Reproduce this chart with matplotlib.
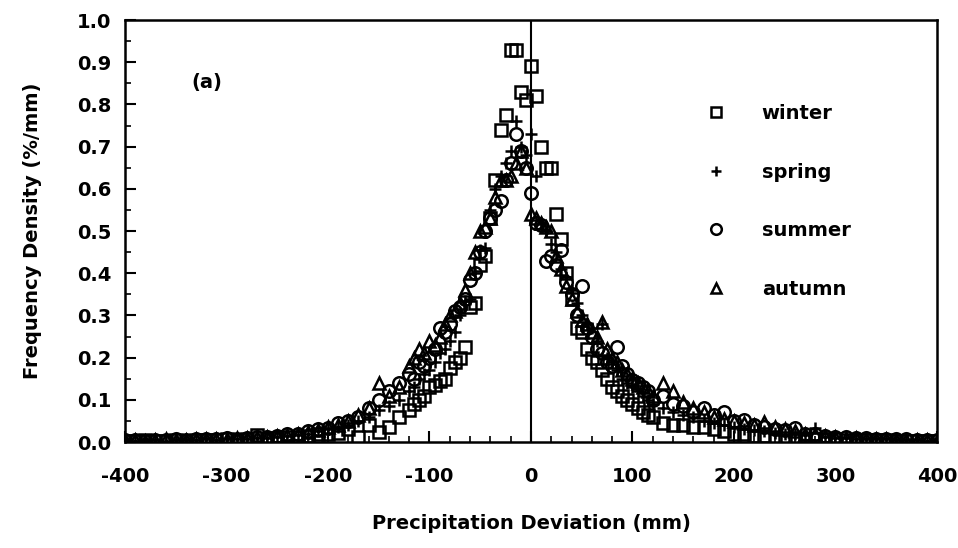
import matplotlib.pyplot as plt

plt.rcParams['font.family'] = ['DejaVu Sans']
plt.rcParams['font.weight'] = 'bold'
plt.rcParams['axes.labelweight'] = 'bold'
plt.rcParams['axes.unicode_minus'] = False

# bin centres (mm)
dev_mm = [-400, -390, -380, -370, -360, -350, -340, -330, -320, -310,
          -300, -290, -280, -270, -260, -250, -240, -230, -220, -210,
          -200, -190, -180, -170, -160, -150, -140, -130,
          -120, -115, -110, -105, -100, -95, -90, -85, -80, -75, -70, -65,
          -60, -55, -50, -45, -40, -35, -30, -25, -20, -15, -10, -5, 0,
          5, 10, 15, 20, 25, 30, 35, 40, 45, 50, 55, 60, 65, 70, 75, 80,
          85, 90, 95, 100, 105, 110, 115, 120,
          130, 140, 150, 160, 170, 180, 190, 200, 210, 220, 230, 240,
          250, 260, 270, 280, 290, 300, 310, 320, 330, 340, 350, 360,
          370, 380, 390, 400]

winter = [0.003, 0.002, 0.004, 0.003, 0.002, 0.004, 0.003, 0.005, 0.004, 0.004,
          0.006, 0.005, 0.008, 0.017, 0.007, 0.010, 0.012, 0.012, 0.015, 0.018,
          0.020, 0.022, 0.030, 0.012, 0.040, 0.024, 0.035, 0.060,
          0.075, 0.09, 0.10, 0.11, 0.13, 0.135, 0.145, 0.15, 0.175, 0.19, 0.20, 0.225,
          0.32, 0.33, 0.42, 0.44, 0.53, 0.62, 0.74, 0.775, 0.93, 0.93, 0.83, 0.81, 0.89,
          0.82, 0.70, 0.65, 0.65, 0.54, 0.48, 0.40, 0.34, 0.27, 0.26, 0.22, 0.20, 0.19,
          0.17, 0.15, 0.13, 0.12, 0.11, 0.10, 0.09, 0.08, 0.07, 0.065, 0.06,
          0.045, 0.040, 0.040, 0.035, 0.036, 0.030, 0.025, 0.020, 0.018, 0.015, 0.014, 0.012,
          0.010, 0.010, 0.008, 0.007, 0.007, 0.006, 0.005, 0.005, 0.004, 0.004, 0.004, 0.003,
          0.003, 0.003, 0.002, 0.002]

spring = [0.004, 0.003, 0.004, 0.005, 0.003, 0.004, 0.005, 0.004, 0.006, 0.005,
          0.007, 0.006, 0.008, 0.009, 0.010, 0.012, 0.014, 0.016, 0.020, 0.025,
          0.030, 0.035, 0.040, 0.050, 0.060, 0.075, 0.085, 0.10,
          0.12, 0.13, 0.15, 0.16, 0.17, 0.19, 0.21, 0.22, 0.24, 0.26, 0.30, 0.335,
          0.34, 0.40, 0.455, 0.46, 0.55, 0.60, 0.63, 0.66, 0.69, 0.76, 0.70, 0.68, 0.73,
          0.63, 0.52, 0.50, 0.47, 0.45, 0.41, 0.39, 0.36, 0.33, 0.30, 0.28, 0.27, 0.24,
          0.28, 0.20, 0.19, 0.17, 0.15, 0.14, 0.13, 0.12, 0.11, 0.10, 0.09,
          0.08, 0.07, 0.065, 0.06, 0.05, 0.045, 0.04, 0.035, 0.03, 0.028, 0.025, 0.022,
          0.02, 0.018, 0.016, 0.033, 0.012, 0.010, 0.009, 0.008, 0.007, 0.006, 0.006, 0.005,
          0.004, 0.004, 0.003, 0.003]

summer = [0.005, 0.004, 0.003, 0.005, 0.004, 0.006, 0.005, 0.007, 0.006, 0.008,
          0.009, 0.008, 0.010, 0.012, 0.013, 0.015, 0.018, 0.020, 0.025, 0.030,
          0.033, 0.045, 0.050, 0.060, 0.080, 0.10, 0.12, 0.14,
          0.16, 0.15, 0.19, 0.18, 0.20, 0.22, 0.27, 0.26, 0.28, 0.31, 0.32, 0.34,
          0.385, 0.40, 0.45, 0.50, 0.53, 0.55, 0.57, 0.62, 0.66, 0.73, 0.69, 0.65, 0.59,
          0.52, 0.515, 0.43, 0.44, 0.42, 0.455, 0.38, 0.35, 0.30, 0.37, 0.27, 0.25, 0.22,
          0.21, 0.19, 0.18, 0.225, 0.18, 0.16, 0.147, 0.14, 0.13, 0.12, 0.10,
          0.11, 0.09, 0.085, 0.07, 0.08, 0.065, 0.072, 0.05, 0.052, 0.04, 0.035, 0.03,
          0.028, 0.033, 0.02, 0.018, 0.015, 0.012, 0.012, 0.010, 0.009, 0.008, 0.007, 0.006,
          0.006, 0.005, 0.005, 0.004]

autumn = [0.004, 0.005, 0.003, 0.004, 0.006, 0.005, 0.004, 0.006, 0.007, 0.006,
          0.008, 0.009, 0.010, 0.011, 0.013, 0.015, 0.017, 0.020, 0.024, 0.028,
          0.035, 0.040, 0.050, 0.065, 0.080, 0.14, 0.11, 0.13,
          0.18, 0.20, 0.22, 0.21, 0.24, 0.23, 0.25, 0.28, 0.30, 0.31, 0.33, 0.36,
          0.40, 0.45, 0.50, 0.51, 0.53, 0.58, 0.62, 0.62, 0.63, 0.66, 0.69, 0.65, 0.54,
          0.53, 0.52, 0.51, 0.50, 0.44, 0.41, 0.37, 0.34, 0.31, 0.29, 0.28, 0.26, 0.25,
          0.285, 0.22, 0.20, 0.19, 0.17, 0.16, 0.15, 0.14, 0.13, 0.12, 0.11,
          0.14, 0.12, 0.095, 0.08, 0.07, 0.06, 0.055, 0.05, 0.045, 0.04, 0.048, 0.035,
          0.03, 0.025, 0.02, 0.018, 0.015, 0.012, 0.010, 0.009, 0.008, 0.007, 0.006, 0.005,
          0.005, 0.004, 0.004, 0.003]

fig = plt.figure(figsize=(9.58, 5.48), dpi=100)
ax = fig.add_axes([0.1305, 0.1934, 0.8475, 0.7701])

style = dict(linestyle='none', color='black', markersize=9, markeredgewidth=1.8)
ax.plot(dev_mm, winter, marker='s', mfc='none', label='winter', **style)
ax.plot(dev_mm, spring, marker='+', label='spring', **style)
ax.plot(dev_mm, summer, marker='o', mfc='none', label='summer', **style)
ax.plot(dev_mm, autumn, marker='^', mfc='none', label='autumn', **style)

ax.axvline(0, color='black', lw=1.5)

ax.set_xlim(-400, 400)
ax.set_ylim(0, 1.0)
ax.set_xticks(range(-400, 401, 100))
ax.set_xticks(range(-400, 401, 20), minor=True)
ax.set_yticks([i / 10 for i in range(11)])
ax.set_yticks([i / 20 for i in range(21)], minor=True)
ax.set_yticklabels(['%.1f' % (i / 10) for i in range(11)])
ax.tick_params(which='major', direction='in', length=8, width=1.5, labelsize=14)
ax.tick_params(axis='x', which='major', pad=18)
ax.tick_params(axis='y', which='major', pad=10)
ax.tick_params(which='minor', direction='in', length=4, width=1.2)
for sp in ax.spines.values():
    sp.set_linewidth(1.8)

ax.set_xlabel('Precipitation Deviation (mm)', fontsize=14, labelpad=20)
ax.set_ylabel('Frequency Density (%/mm)', fontsize=14, labelpad=25)

ax.text(-335, 0.853, '(a)', fontsize=14, va='center')

ax.legend(loc='upper left', bbox_to_anchor=(0.719, 0.842), bbox_transform=fig.transFigure,
          frameon=False, fontsize=14, labelspacing=2.03, handlelength=1.0,
          handletextpad=1.85, markerscale=0.85)

fig.savefig('out.png', dpi=100)
